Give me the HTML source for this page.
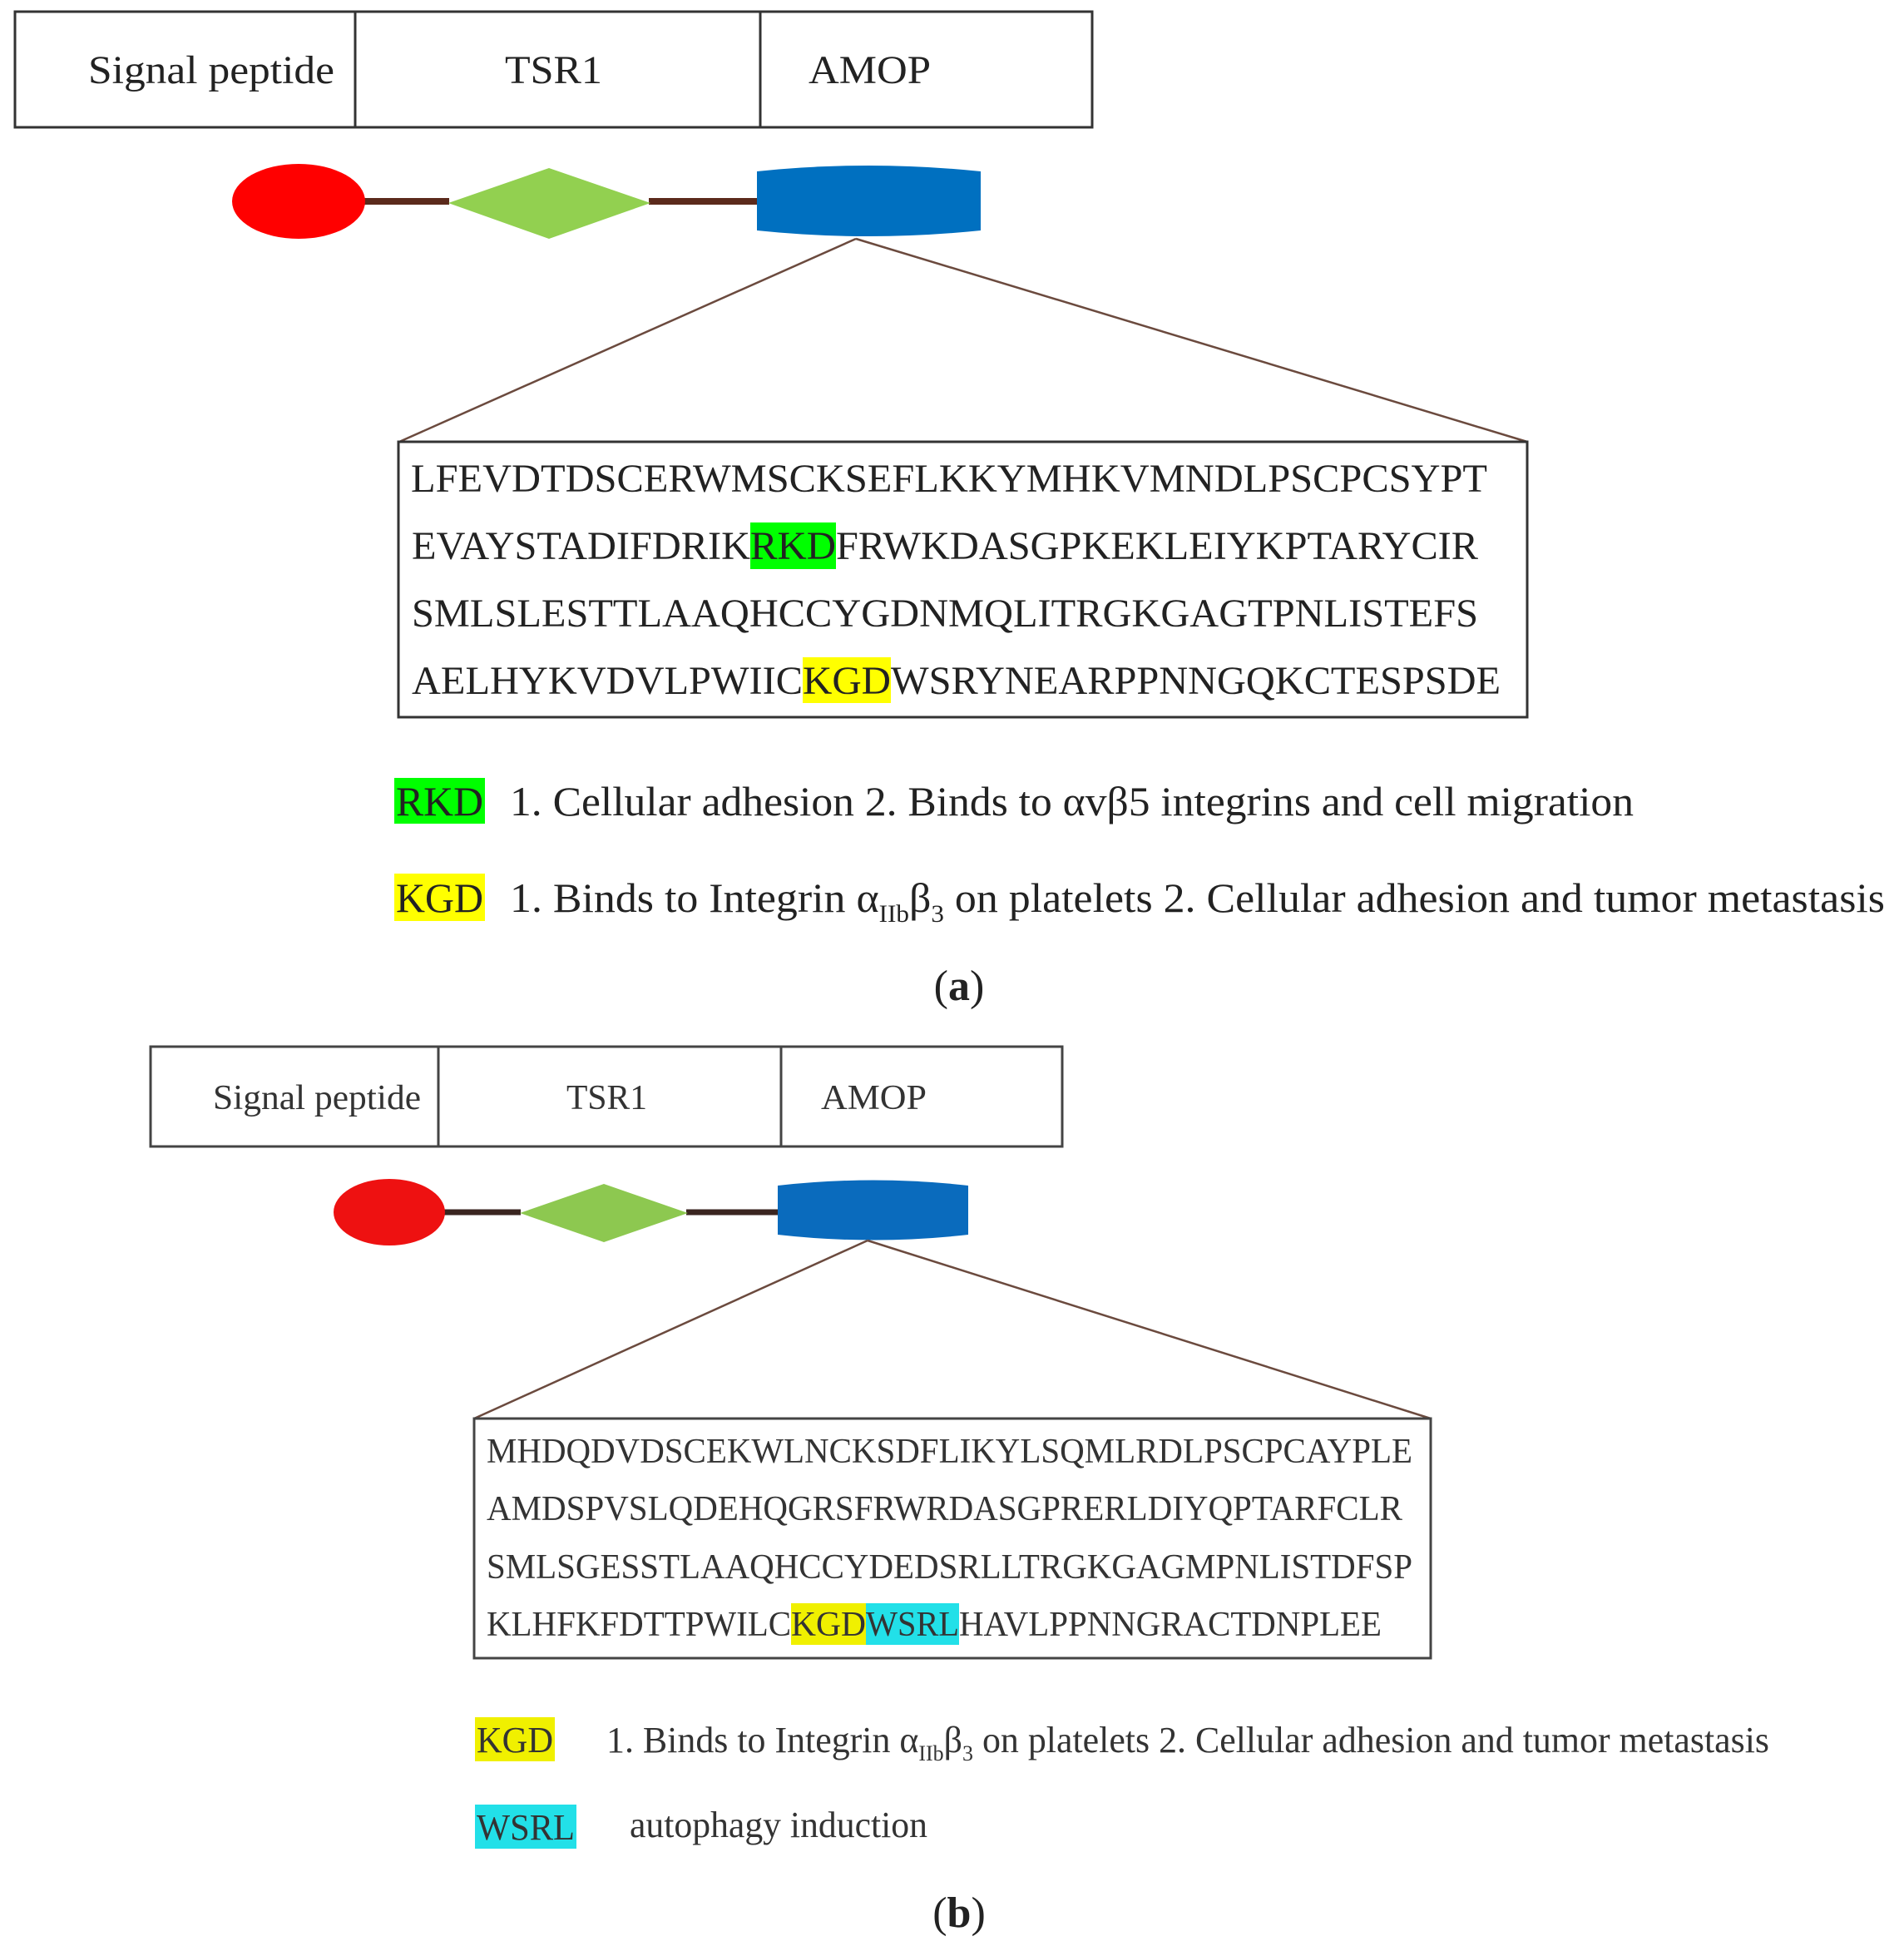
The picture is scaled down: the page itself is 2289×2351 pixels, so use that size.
<!DOCTYPE html>
<html><head><meta charset="utf-8"><style>
html,body{margin:0;padding:0;background:#fff;}
svg{display:block;}
text{font-family:"Liberation Serif",serif;fill:#222;}
</style></head><body>
<svg width="2289" height="2351" viewBox="0 0 2289 2351" xmlns="http://www.w3.org/2000/svg">
<!-- (a) table -->
<rect x="18" y="14" width="1295" height="139" fill="none" stroke="#333" stroke-width="3"/>
<line x1="427" y1="14" x2="427" y2="153" stroke="#333" stroke-width="3"/>
<line x1="914" y1="14" x2="914" y2="153" stroke="#333" stroke-width="3"/>
<text x="106" y="100" font-size="48" textLength="296" lengthAdjust="spacingAndGlyphs">Signal peptide</text>
<text x="607" y="100" font-size="48" textLength="117" lengthAdjust="spacingAndGlyphs">TSR1</text>
<text x="972" y="100" font-size="48" textLength="147" lengthAdjust="spacingAndGlyphs">AMOP</text>
<!-- (a) shapes -->
<line x1="430" y1="242" x2="540" y2="242" stroke="#5b2a1c" stroke-width="8"/>
<line x1="780" y1="242" x2="912" y2="242" stroke="#5b2a1c" stroke-width="8"/>
<ellipse cx="359" cy="242" rx="80" ry="45" fill="#ff0000"/>
<polygon points="539,244 660,202 782,244 660,287" fill="#92d050"/>
<path d="M910,206 Q1044,192 1179,206 L1179,277 Q1044,291 910,277 Z" fill="#0070c0"/>
<line x1="1029" y1="287" x2="480" y2="531" stroke="#6b4a3e" stroke-width="2.5"/>
<line x1="1029" y1="287" x2="1836" y2="531" stroke="#6b4a3e" stroke-width="2.5"/>
<rect x="479" y="531" width="1357" height="331" fill="none" stroke="#333" stroke-width="3"/>
<rect x="902" y="628" width="103" height="56" fill="#00ff00"/>
<rect x="965" y="790" width="106" height="55" fill="#ffff00"/>
<g font-size="48">
<text x="494" y="591" textLength="1294" lengthAdjust="spacingAndGlyphs">LFEVDTDSCERWMSCKSEFLKKYMHKVMNDLPSCPCSYPT</text>
<text x="495" y="672" textLength="407" lengthAdjust="spacingAndGlyphs">EVAYSTADIFDRIK</text>
<text x="902" y="672" textLength="103" lengthAdjust="spacingAndGlyphs">RKD</text>
<text x="1005" y="672" textLength="772" lengthAdjust="spacingAndGlyphs">FRWKDASGPKEKLEIYKPTARYCIR</text>
<text x="495" y="753" textLength="1282" lengthAdjust="spacingAndGlyphs">SMLSLESTTLAAQHCCYGDNMQLITRGKGAGTPNLISTEFS</text>
<text x="495" y="834" textLength="470" lengthAdjust="spacingAndGlyphs">AELHYKVDVLPWIIC</text>
<text x="965" y="834" textLength="106" lengthAdjust="spacingAndGlyphs">KGD</text>
<text x="1071" y="834" textLength="733" lengthAdjust="spacingAndGlyphs">WSRYNEARPPNNGQKCTESPSDE</text>
</g>
<!-- (a) legend -->
<rect x="474" y="935" width="109" height="55" fill="#00ff00"/>
<text x="476" y="980" font-size="50" textLength="105" lengthAdjust="spacingAndGlyphs">RKD</text>
<text x="613" y="980" font-size="50" textLength="1351" lengthAdjust="spacingAndGlyphs">1. Cellular adhesion 2. Binds to αvβ5 integrins and cell migration</text>
<rect x="474" y="1050" width="109" height="57" fill="#ffff00"/>
<text x="476" y="1096" font-size="50" textLength="105" lengthAdjust="spacingAndGlyphs">KGD</text>
<text x="613" y="1096" font-size="50" textLength="1653" lengthAdjust="spacingAndGlyphs">1. Binds to Integrin α<tspan font-size="30" dy="12">IIb</tspan><tspan dy="-12">β</tspan><tspan font-size="30" dy="12">3</tspan><tspan dy="-12"> on platelets 2. Cellular adhesion and tumor metastasis</tspan></text>
<text x="1153" y="1202" font-size="52" text-anchor="middle">(<tspan font-weight="bold">a</tspan>)</text>
<!-- (b) table -->
<rect x="181" y="1258" width="1096" height="120" fill="none" stroke="#444" stroke-width="3"/>
<line x1="527" y1="1258" x2="527" y2="1378" stroke="#444" stroke-width="3"/>
<line x1="939" y1="1258" x2="939" y2="1378" stroke="#444" stroke-width="3"/>
<g font-size="42" style="fill:#333">
<text x="256" y="1333" textLength="250" lengthAdjust="spacingAndGlyphs" style="fill:#333">Signal peptide</text>
<text x="681" y="1333" textLength="97" lengthAdjust="spacingAndGlyphs" style="fill:#333">TSR1</text>
<text x="987" y="1333" textLength="127" lengthAdjust="spacingAndGlyphs" style="fill:#333">AMOP</text>
</g>
<!-- (b) shapes -->
<line x1="530" y1="1457" x2="626" y2="1457" stroke="#3a2520" stroke-width="7"/>
<line x1="825" y1="1457" x2="937" y2="1457" stroke="#3a2520" stroke-width="7"/>
<ellipse cx="468" cy="1457" rx="67" ry="40" fill="#ee1111"/>
<polygon points="625,1458 726,1423 827,1458 726,1493" fill="#8dc850"/>
<path d="M935,1425 Q1050,1412 1164,1425 L1164,1484 Q1050,1497 935,1484 Z" fill="#0a6bbd"/>
<line x1="1043" y1="1491" x2="570" y2="1705" stroke="#6b4a3e" stroke-width="2.5"/>
<line x1="1043" y1="1491" x2="1720" y2="1705" stroke="#6b4a3e" stroke-width="2.5"/>
<rect x="570" y="1705" width="1150" height="288" fill="none" stroke="#444" stroke-width="3"/>
<rect x="951" y="1927" width="90" height="50" fill="#f0f000"/>
<rect x="1041" y="1927" width="112" height="50" fill="#22e0e8"/>
<g font-size="42">
<text x="585" y="1758" textLength="1113" lengthAdjust="spacingAndGlyphs" style="fill:#333">MHDQDVDSCEKWLNCKSDFLIKYLSQMLRDLPSCPCAYPLE</text>
<text x="585" y="1827" textLength="1101" lengthAdjust="spacingAndGlyphs" style="fill:#333">AMDSPVSLQDEHQGRSFRWRDASGPRERLDIYQPTARFCLR</text>
<text x="585" y="1897" textLength="1113" lengthAdjust="spacingAndGlyphs" style="fill:#333">SMLSGESSTLAAQHCCYDEDSRLLTRGKGAGMPNLISTDFSP</text>
<text x="585" y="1966" textLength="366" lengthAdjust="spacingAndGlyphs" style="fill:#333">KLHFKFDTTPWILC</text>
<text x="951" y="1966" textLength="90" lengthAdjust="spacingAndGlyphs" style="fill:#333">KGD</text>
<text x="1041" y="1966" textLength="112" lengthAdjust="spacingAndGlyphs" style="fill:#333">WSRL</text>
<text x="1153" y="1966" textLength="508" lengthAdjust="spacingAndGlyphs" style="fill:#333">HAVLPPNNGRACTDNPLEE</text>
</g>
<!-- (b) legend -->
<rect x="571" y="2064" width="96" height="53" fill="#f0f000"/>
<text x="573" y="2106" font-size="44" textLength="92" lengthAdjust="spacingAndGlyphs" style="fill:#333">KGD</text>
<text x="729" y="2106" font-size="44" textLength="1398" lengthAdjust="spacingAndGlyphs" style="fill:#333">1. Binds to Integrin α<tspan font-size="26" dy="10">IIb</tspan><tspan dy="-10">β</tspan><tspan font-size="26" dy="10">3</tspan><tspan dy="-10"> on platelets 2. Cellular adhesion and tumor metastasis</tspan></text>
<rect x="571" y="2169" width="122" height="53" fill="#22e0e8"/>
<text x="573" y="2211" font-size="44" textLength="118" lengthAdjust="spacingAndGlyphs" style="fill:#333">WSRL</text>
<text x="757" y="2208" font-size="44" textLength="358" lengthAdjust="spacingAndGlyphs" style="fill:#333">autophagy induction</text>
<text x="1153" y="2316" font-size="52" text-anchor="middle">(<tspan font-weight="bold">b</tspan>)</text>
</svg>
</body></html>
